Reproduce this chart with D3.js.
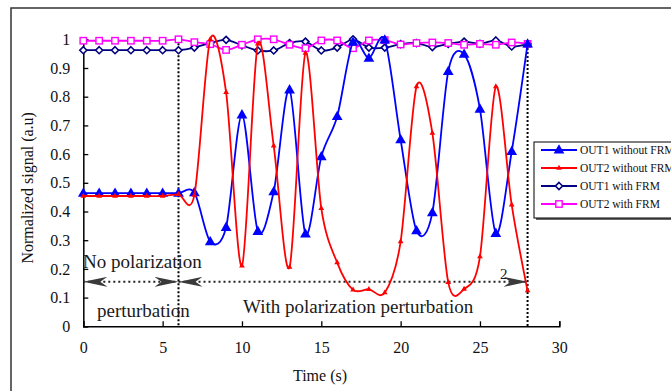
<!DOCTYPE html>
<html>
<head>
<meta charset="utf-8">
<script src="https://cdnjs.cloudflare.com/ajax/libs/d3/7.8.5/d3.min.js"></script>
<style>
  html, body { margin: 0; padding: 0; background: #fff; }
  svg { display: block; font-family: "Liberation Serif", "Times New Roman", serif; }
</style>
</head>
<body>
<svg id="chart" width="671" height="391"></svg>
<script>
// Sample times (s)
const times = d3.range(0, 29);

// Normalized output signals
const out1NoFrm = [0.464, 0.464, 0.464, 0.464, 0.464, 0.464, 0.464, 0.466, 0.295, 0.345,
                   0.737, 0.331, 0.469, 0.824, 0.322, 0.591, 0.731, 0.99, 0.934, 0.998,
                   0.650, 0.333, 0.396, 0.888, 0.948, 0.757, 0.324, 0.609, 0.984];
const out2NoFrm = [0.454, 0.454, 0.454, 0.454, 0.454, 0.454, 0.460, 0.457, 1.0, 0.815,
                   0.211, 0.984, 0.629, 0.206, 0.952, 0.411, 0.222, 0.127, 0.129, 0.117,
                   0.295, 0.835, 0.673, 0.153, 0.130, 0.243, 0.835, 0.423, 0.124];
const out1Frm   = [0.962, 0.962, 0.962, 0.962, 0.962, 0.962, 0.962, 0.971, 0.987, 0.998,
                   0.979, 0.961, 0.961, 0.987, 0.992, 0.961, 0.971, 1.0, 0.971, 0.971,
                   0.983, 0.987, 0.973, 0.984, 0.992, 0.984, 0.996, 0.975, 0.984];
const out2Frm   = [0.995, 0.995, 0.995, 0.995, 0.995, 0.995, 1.0, 0.990, 0.983, 0.963,
                   0.981, 1.0, 1.0, 0.981, 0.969, 0.996, 0.996, 0.969, 0.996, 0.997,
                   0.982, 0.987, 0.989, 0.987, 0.981, 0.984, 0.981, 0.989, 0.984];

const xTicks = [0, 5, 10, 15, 20, 25, 30];
const yTicks = [0, 0.1, 0.2, 0.3, 0.4, 0.5, 0.6, 0.7, 0.8, 0.9, 1];

// Phase boundaries (s) and the height of the annotation arrows
const phaseStart = 0, phaseSwitch = 6, phaseEnd = 28;
const arrowLevel = 0.155;

const series = [
  { name: "OUT1 without FRM", values: out1NoFrm, color: "#0000ff", marker: "triangle" },
  { name: "OUT2 without FRM", values: out2NoFrm, color: "#ff0000", marker: "smalltri" },
  { name: "OUT1 with FRM",    values: out1Frm,   color: "#000080", marker: "diamond" },
  { name: "OUT2 with FRM",    values: out2Frm,   color: "#ff00ff", marker: "square" }
];

const svg = d3.select("#chart");

// Outer chart frame
svg.append("rect")
  .attr("x", 11).attr("y", 8).attr("width", 700).attr("height", 420)
  .attr("fill", "none").attr("stroke", "#333").attr("stroke-width", 1.5);

const x = d3.scaleLinear().domain([0, 30]).range([83.3, 559.3]);
const y = d3.scaleLinear().domain([0, 1]).range([326.3, 39.3]);

// Axes (ticks point into the plot)
const xAxis = svg.append("g")
  .attr("transform", `translate(0,${y(0)})`)
  .call(d3.axisBottom(x).tickValues(xTicks).tickSize(-5).tickPadding(15).tickFormat(d3.format("d")));
const yAxis = svg.append("g")
  .attr("transform", `translate(${x(0)},0)`)
  .call(d3.axisLeft(y).tickValues(yTicks).tickSize(-5).tickPadding(13)
        .tickFormat(d => d === 0 ? "0" : d === 1 ? "1" : d3.format(".1f")(d)));
[xAxis, yAxis].forEach(g => {
  g.select(".domain").attr("stroke", "#000").attr("stroke-width", 1.5);
  g.selectAll(".tick line").attr("stroke", "#000").attr("stroke-width", 1.3);
  g.selectAll(".tick text").attr("fill", "#111").style("font-size", "16px")
    .style("font-family", "Liberation Serif, serif");
});

// Axis titles
svg.append("text").attr("x", 320).attr("y", 381).attr("text-anchor", "middle")
  .style("font-size", "16px").attr("fill", "#111").text("Time (s)");
svg.append("text")
  .attr("transform", `translate(33,${(y(0) + y(1)) / 2 + 5}) rotate(-90)`)
  .attr("text-anchor", "middle").style("font-size", "16px").attr("fill", "#111")
  .text("Normalized signal (a.u)");

// Vertical dotted phase markers
[[phaseSwitch, 1.0], [phaseEnd, 0.984]].forEach(([t, top]) => {
  svg.append("line")
    .attr("x1", x(t)).attr("x2", x(t)).attr("y1", y(top)).attr("y2", y(0))
    .attr("stroke", "#000").attr("stroke-width", 2).attr("stroke-dasharray", "2,2");
});

// Stealth arrowheads for the annotation arrows
const defs = svg.append("defs");
defs.append("marker").attr("id", "stealth")
  .attr("viewBox", "0 0 24 10").attr("refX", 24).attr("refY", 5)
  .attr("markerWidth", 24).attr("markerHeight", 10).attr("markerUnits", "userSpaceOnUse")
  .attr("orient", "auto-start-reverse")
  .append("path").attr("d", "M0,0 L24,5 L0,10 L7,5 Z").attr("fill", "#3a3a3a");

[[phaseStart, phaseSwitch], [phaseSwitch, phaseEnd]].forEach(([a, b]) => {
  svg.append("line")
    .attr("x1", x(a)).attr("x2", x(b)).attr("y1", y(arrowLevel)).attr("y2", y(arrowLevel))
    .attr("stroke", "#222").attr("stroke-width", 2).attr("stroke-dasharray", "2,3")
    .attr("marker-start", "url(#stealth)").attr("marker-end", "url(#stealth)");
});

// Phase annotations
const note = (tx, ty, s, size) => svg.append("text").attr("x", tx).attr("y", ty)
  .style("font-size", size + "px").attr("fill", "#1a1a1a").text(s);
note(83, 268, "No polarization", 19);
note(97, 317, "perturbation", 19);
note(243, 313, "With polarization perturbation", 19);
note(500, 279, "2", 15);

// Data curves (smoothed through the sample points)
const line = d3.line()
  .x((d, i) => x(times[i]))
  .y(d => y(d))
  .curve(d3.curveCardinal.tension(0.1));

function drawMarker(g, type, color, cx, cy) {
  if (type === "triangle") {
    g.append("path").attr("d", d3.symbol(d3.symbolTriangle, 50)())
      .attr("transform", `translate(${cx},${cy + 0.5})`).attr("fill", color);
  } else if (type === "smalltri") {
    g.append("path").attr("d", d3.symbol(d3.symbolTriangle, 14)())
      .attr("transform", `translate(${cx},${cy})`).attr("fill", color);
  } else if (type === "diamond") {
    g.append("path").attr("d", "M0,-3.5 L3.5,0 L0,3.5 L-3.5,0 Z")
      .attr("transform", `translate(${cx},${cy})`)
      .attr("fill", "#fff").attr("stroke", color).attr("stroke-width", 1.6);
  } else if (type === "square") {
    g.append("rect").attr("x", cx - 3.2).attr("y", cy - 3.2).attr("width", 6.4).attr("height", 6.4)
      .attr("fill", "#fff").attr("stroke", color).attr("stroke-width", 1.4);
  }
}

// Draw order: FRM series first, then the unstabilised ones on top
const drawOrder = [series[2], series[3], series[0], series[1]];
drawOrder.forEach(s => {
  const g = svg.append("g");
  g.append("path").attr("d", line(s.values))
    .attr("fill", "none").attr("stroke", s.color).attr("stroke-width", 1.8);
  s.values.forEach((v, i) => drawMarker(g, s.marker, s.color, x(times[i]), y(v)));
});

// Legend
const lg = svg.append("g");
lg.append("rect").attr("x", 536).attr("y", 144).attr("width", 150).attr("height", 76).attr("fill", "#666");
lg.append("rect").attr("x", 534).attr("y", 142).attr("width", 150).attr("height", 76)
  .attr("fill", "#fff").attr("stroke", "#000").attr("stroke-width", 1);
series.forEach((s, i) => {
  const ry = 150 + i * 18;
  lg.append("line").attr("x1", 541).attr("x2", 577).attr("y1", ry).attr("y2", ry)
    .attr("stroke", s.color).attr("stroke-width", 1.8);
  drawMarker(lg, s.marker, s.color, 559, ry);
  lg.append("text").attr("x", 580).attr("y", ry + 4).style("font-size", "11.5px")
    .attr("fill", "#111").text(s.name);
});
</script>
</body>
</html>
